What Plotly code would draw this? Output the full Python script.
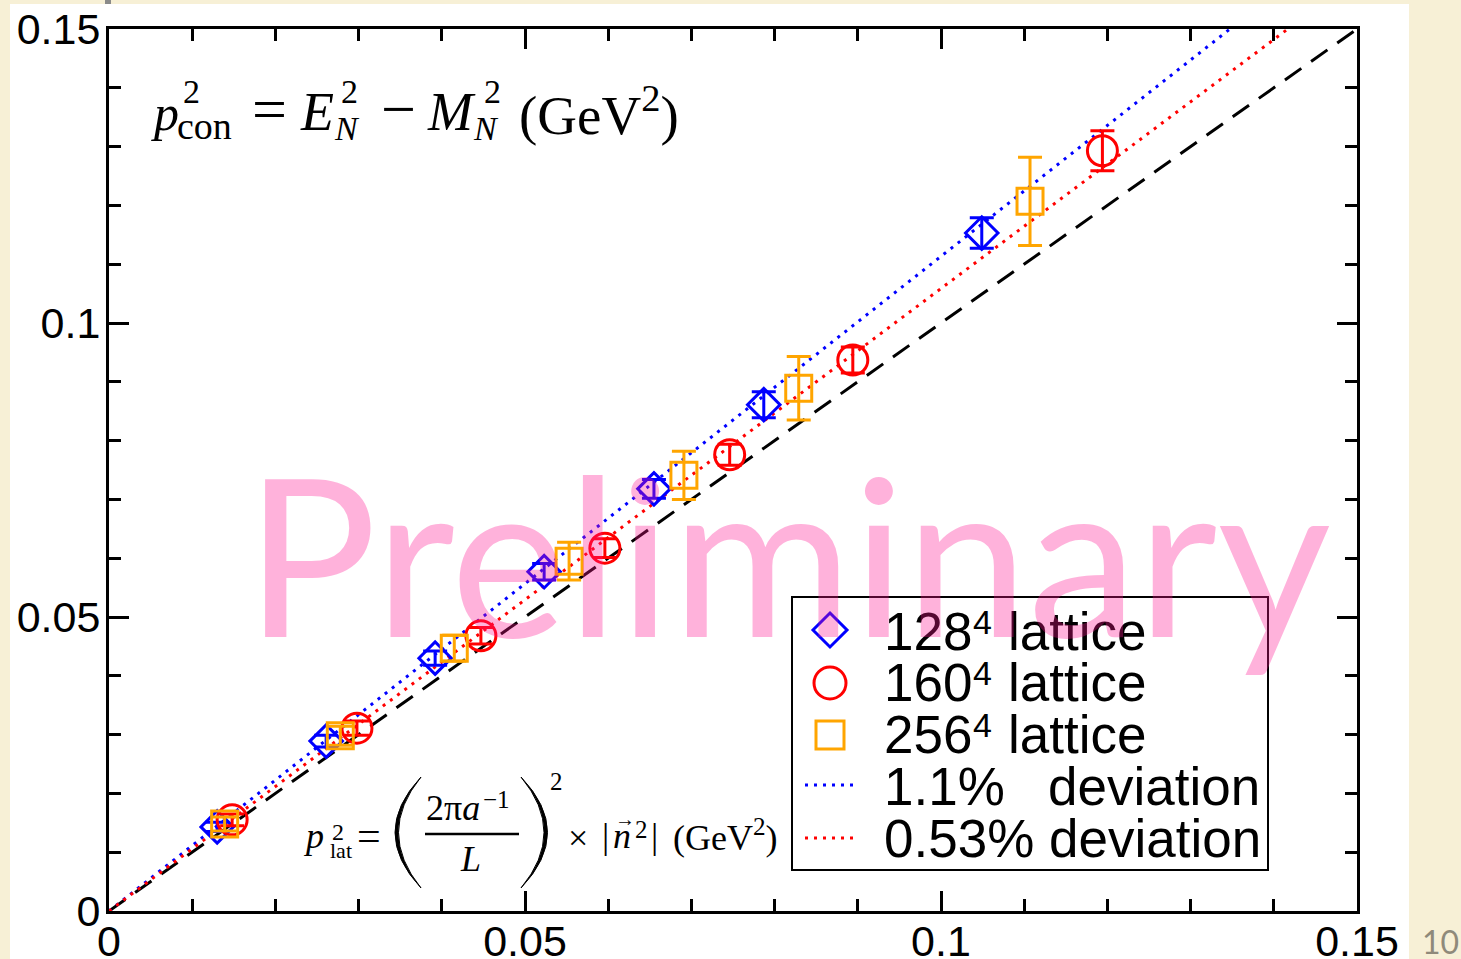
import plotly.graph_objects as go

# ---- data -------------------------------------------------------------
# 128^4 lattice
x128 = [0.0130, 0.0261, 0.0392, 0.0523, 0.0655, 0.0787, 0.1049]
y128 = [0.0143, 0.0289, 0.0430, 0.0577, 0.0718, 0.0861, 0.1153]
e128 = [0.0008, 0.0010, 0.0012, 0.0014, 0.0016, 0.0022, 0.0026]
# 160^4 lattice
x160 = [0.0148, 0.0298, 0.0447, 0.0596, 0.0746, 0.0894, 0.1194]
y160 = [0.0155, 0.0311, 0.0468, 0.0617, 0.0776, 0.0937, 0.1293]
e160 = [0.0010, 0.0012, 0.0014, 0.0016, 0.0018, 0.0022, 0.0034]
# 256^4 lattice
x256 = [0.0139, 0.0278, 0.0415, 0.0553, 0.0691, 0.0829, 0.1107]
y256 = [0.0148, 0.0298, 0.0447, 0.0595, 0.0741, 0.0889, 0.1207]
e256 = [0.0012, 0.0016, 0.0022, 0.0032, 0.0041, 0.0054, 0.0075]

# deviation lines and the continuum reference p_con^2 = p_lat^2
line_x = [0.0, 0.15]
dev11_y = [0.0, 0.1670]
dev053_y = [0.0, 0.1588]
ref_y = [0.0, 0.15]

tick_vals = [0.0, 0.05, 0.1, 0.15]
tick_text = ["0", "0.05", "0.1", "0.15"]

legend_labels = ["128", "160", "256", "1.1%", "0.53% deviation"]

# ---- geometry ----------------------------------------------------------
W, H = 1461, 959
ML, MR, MT, MB = 109, 104, 29, 48
PW, PH = W - ML - MR, H - MT - MB

BLUE, RED, ORANGE = "#0000ff", "#ff0000", "#ffa500"
SERIF = "Liberation Serif"
SANS = "Liberation Sans"


def px(x):
    return (x - ML) / PW


def py(y):
    return (H - MB - y) / PH


fig = go.Figure()

fig.add_trace(go.Scatter(x=line_x, y=ref_y, mode="lines",
                         line=dict(color="black", width=3, dash="20px,12px"),
                         hoverinfo="skip"))
fig.add_trace(go.Scatter(x=line_x, y=dev11_y, mode="lines",
                         line=dict(color=BLUE, width=3, dash="3px,6px"),
                         hoverinfo="skip"))
fig.add_trace(go.Scatter(x=line_x, y=dev053_y, mode="lines",
                         line=dict(color=RED, width=3, dash="3px,6px"),
                         hoverinfo="skip"))

for xs, ys, es, sym, size, col in [
    (x128, y128, e128, "diamond-open", 25, BLUE),
    (x160, y160, e160, "circle-open", 30, RED),
    (x256, y256, e256, "square-open", 26, ORANGE),
]:
    fig.add_trace(go.Scatter(
        x=xs, y=ys, mode="markers",
        marker=dict(symbol=sym, size=size, color=col, line=dict(width=3, color=col)),
        error_y=dict(type="data", array=es, visible=True, color=col,
                     thickness=3, width=12),
        cliponaxis=False,
    ))

axis_common = dict(
    range=[0, 0.15], showgrid=False, zeroline=False, automargin=False,
    showline=True, linecolor="black", linewidth=3, mirror="allticks",
    ticks="inside", ticklen=20, tickwidth=2.5, tickcolor="black",
    tickvals=tick_vals, ticktext=tick_text,
    tickfont=dict(family=SANS, size=43, color="black"),
    minor=dict(dtick=0.01, ticks="inside", ticklen=12, tickwidth=2.5,
               tickcolor="black", showgrid=False),
)
fig.update_xaxes(**axis_common, ticklabelstandoff=-10)
fig.update_yaxes(**axis_common, ticklabelstandoff=-3)

shapes = []
# white page panel on the cream slide background
shapes.append(dict(type="rect", xref="paper", yref="paper", layer="below",
                   x0=px(10), x1=px(1409), y0=py(965), y1=py(4),
                   fillcolor="white", line=dict(width=0)))
shapes.append(dict(type="rect", xref="paper", yref="paper", layer="below",
                   x0=px(105), x1=px(111), y0=py(4), y1=py(-2),
                   fillcolor="#8a8a8a", line=dict(width=0)))

# legend frame and symbols
shapes.append(dict(type="rect", xref="paper", yref="paper", layer="above",
                   x0=px(792), x1=px(1268), y0=py(870), y1=py(597),
                   fillcolor="white", line=dict(color="black", width=2)))
cx, cy, r = 830, 630, 17
shapes.append(dict(type="path", xref="paper", yref="paper", layer="above",
                   path=f"M {px(cx)},{py(cy-r)} L {px(cx+r)},{py(cy)} L {px(cx)},{py(cy+r)} L {px(cx-r)},{py(cy)} Z",
                   line=dict(color=BLUE, width=3)))
cy, r = 683, 16
shapes.append(dict(type="circle", xref="paper", yref="paper", layer="above",
                   x0=px(cx-r), x1=px(cx+r), y0=py(cy+r), y1=py(cy-r),
                   line=dict(color=RED, width=3)))
cy, r = 735, 14
shapes.append(dict(type="rect", xref="paper", yref="paper", layer="above",
                   x0=px(cx-r), x1=px(cx+r), y0=py(cy+r), y1=py(cy-r),
                   line=dict(color=ORANGE, width=3)))
for yy, col in [(785, BLUE), (838, RED)]:
    shapes.append(dict(type="line", xref="paper", yref="paper", layer="above",
                       x0=px(805), x1=px(856), y0=py(yy), y1=py(yy),
                       line=dict(color=col, width=3, dash="3px,6px")))

# big parentheses and fraction bar of the lattice momentum formula
def paren(x_end, x_out, x_in, y0, y1):
    ym = (y0 + y1) / 2
    return (f"M {px(x_end)},{py(y0)} Q {px(x_out)},{py(ym)} {px(x_end)},{py(y1)} "
            f"Q {px(x_in)},{py(ym)} {px(x_end)},{py(y0)} Z")

shapes.append(dict(type="path", xref="paper", yref="paper", layer="above",
                   path=paren(421, 369, 376, 777, 888),
                   fillcolor="black", line=dict(color="black", width=1)))
shapes.append(dict(type="path", xref="paper", yref="paper", layer="above",
                   path=paren(521, 574, 567, 777, 888),
                   fillcolor="black", line=dict(color="black", width=1)))
shapes.append(dict(type="line", xref="paper", yref="paper", layer="above",
                   x0=px(425), x1=px(519), y0=py(834), y1=py(834),
                   line=dict(color="black", width=2.5)))

annotations = []


def txt(text, x, base, size, family=SERIF, color="black", k=0.3375):
    annotations.append(dict(
        text=text, xref="paper", yref="paper", x=px(x), y=py(base - k * size),
        xanchor="left", yanchor="middle", showarrow=False,
        font=dict(family=family, size=size, color=color), borderpad=0,
    ))


# p_con^2 = E_N^2 - M_N^2 (GeV^2)
txt("<i>p</i>", 150, 130, 50)
txt("2", 182, 103, 34)
txt("con", 176, 139, 38)
txt("=", 251, 130, 62)
txt("<i>E</i>", 299, 130, 54)
txt("2", 340, 103, 34)
txt("<i>N</i>", 333, 140, 34)
txt("\u2212", 380, 130, 62)
txt("<i>M</i>", 426, 130, 54)
txt("2", 483, 103, 34)
txt("<i>N</i>", 472, 140, 34)
txt("(GeV<sup>2</sup>)", 518, 130, 55)

# p_lat^2 = (2 pi a^-1 / L)^2 x |n^2| (GeV^2)
txt("<i>p</i>", 302, 848, 36)
txt("2", 331, 840, 24)
txt("lat", 329, 858, 22)
txt("=", 356, 850, 42)
txt("2\u03c0<i>a</i>", 425, 820, 36)
txt("\u22121", 482, 808, 25)
txt("<i>L</i>", 459, 871, 36)
txt("2", 549, 790, 25)
txt("\u00d7", 567, 850, 36)
txt("|", 601, 848, 36)
txt("<i>n</i>", 612, 848, 36)
txt("\u2192", 614, 826, 20)
txt("2", 634, 838, 25)
txt("|", 650, 848, 36)
txt("(GeV<sup>2</sup>)", 672, 848, 36)

# legend text
ks = 0.3465
txt(legend_labels[0], 883, 650, 53, SANS, k=ks)
txt("4", 972, 634, 34, SANS, k=ks)
txt("lattice", 1007, 650, 53, SANS, k=ks)
txt(legend_labels[1], 883, 701, 53, SANS, k=ks)
txt("4", 972, 685, 34, SANS, k=ks)
txt("lattice", 1007, 701, 53, SANS, k=ks)
txt(legend_labels[2], 883, 753, 53, SANS, k=ks)
txt("4", 972, 737, 34, SANS, k=ks)
txt("lattice", 1007, 753, 53, SANS, k=ks)
txt(legend_labels[3], 883, 805, 53, SANS, k=ks)
txt("deviation", 1047, 805, 53, SANS, k=ks)
txt(legend_labels[4], 883, 857, 53, SANS, k=ks)

# slide page number
annotations.append(dict(text="10", xref="paper", yref="paper", x=px(1440), y=py(941),
                        xanchor="center", yanchor="middle", showarrow=False,
                        font=dict(family="Lato", size=32, color="#8f8a7a")))

# translucent watermark over everything
annotations.append(dict(text="Preliminary", xref="paper", yref="paper",
                        x=px(788), y=py(637 - 0.387 * 220),
                        xanchor="center", yanchor="middle", showarrow=False,
                        font=dict(family="Lato", size=220, color="rgba(255,20,147,0.33)")))

fig.update_layout(
    width=W, height=H,
    margin=dict(l=ML, r=MR, t=MT, b=MB, pad=0, autoexpand=False),
    paper_bgcolor="#f7f0d6", plot_bgcolor="white",
    showlegend=False,
    shapes=shapes, annotations=annotations,
)

fig.write_html("out.html")
